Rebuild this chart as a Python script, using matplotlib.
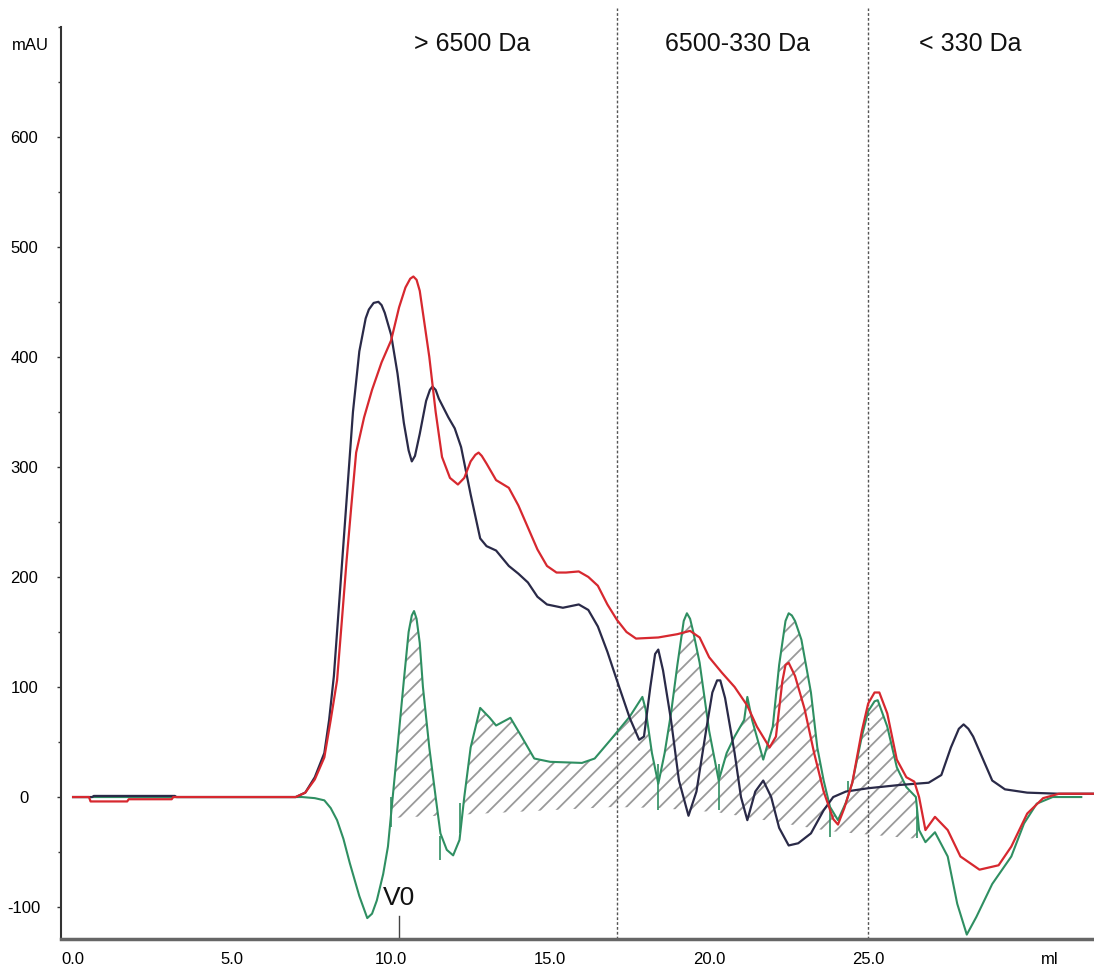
import numpy as np
import matplotlib
matplotlib.use('Agg')
import matplotlib.pyplot as plt
import matplotlib.ticker as ticker

plt.rcParams['font.family'] = ['Liberation Sans', 'DejaVu Sans']
plt.rcParams['hatch.linewidth'] = 1.3

# Elution volume (ml) / absorbance (mAU) traces
navy_x = [0.0, 0.6, 0.65, 3.2, 3.25, 7.0, 7.3, 7.6, 7.9, 8.05, 8.2, 8.35, 8.5, 8.65, 8.8,
          9.0, 9.2, 9.3, 9.45, 9.6, 9.7, 9.8, 10.0, 10.2, 10.4, 10.55, 10.65, 10.75, 10.9,
          11.1, 11.22, 11.3, 11.4, 11.5, 11.8, 12.0, 12.2, 12.5, 12.8, 13.0, 13.3, 13.7,
          14.0, 14.3, 14.6, 14.9, 15.4, 15.9, 16.2, 16.5, 16.8, 17.1, 17.5, 17.8, 17.95,
          18.15, 18.3, 18.4, 18.55, 18.8, 19.05, 19.35, 19.6, 19.9, 20.1, 20.25, 20.35,
          20.5, 20.8, 21.0, 21.2, 21.45, 21.7, 21.95, 22.2, 22.5, 22.8, 23.2, 23.6, 23.9,
          24.3, 25.0, 26.0, 26.9, 27.3, 27.6, 27.85, 28.0, 28.15, 28.3, 28.6, 28.9, 29.3,
          30.0, 31.0, 32.2]
navy_y = [0, 0, 1, 1, 0, 0, 4, 18, 40, 70, 110, 170, 230, 290, 350,
          405, 435, 443, 449, 450, 447, 440, 420, 385, 340, 315, 305, 310, 330,
          360, 370, 373, 370, 362, 345, 335, 318, 275, 235, 228, 224, 210,
          203, 195, 182, 175, 172, 175, 170, 155, 132, 106, 72, 52, 55,
          100, 130, 134, 115, 70, 15, -17, 5, 60, 95, 106, 106,
          90, 40, 0, -21, 5, 15, 0, -28, -44, -42, -33, -12, 0,
          5, 8, 11, 13, 20, 45, 62, 66, 62, 55, 35, 15, 7,
          4, 3, 3]

red_x = [0.0, 0.5, 0.55, 1.7, 1.75, 3.1, 3.15, 7.0, 7.3, 7.6, 7.9, 8.1, 8.3, 8.45, 8.6,
         8.75, 8.9, 9.15, 9.4, 9.7, 10.0, 10.25, 10.45, 10.6, 10.7, 10.8, 10.9, 11.0, 11.2,
         11.4, 11.6, 11.85, 12.1, 12.3, 12.5, 12.65, 12.75, 12.85, 13.0, 13.3, 13.7, 14.0,
         14.3, 14.6, 14.9, 15.2, 15.5, 15.9, 16.2, 16.5, 16.8, 17.1, 17.4, 17.7, 18.4, 19.0,
         19.4, 19.7, 20.0, 20.4, 20.8, 21.2, 21.5, 21.9, 22.1, 22.3, 22.4, 22.5, 22.7, 23.0,
         23.3, 23.6, 23.9, 24.05, 24.25, 24.5, 24.8, 25.0, 25.2, 25.35, 25.6, 25.9, 26.2,
         26.45, 26.6, 26.8, 27.1, 27.5, 27.9, 28.5, 29.1, 29.5, 30.0, 30.5, 31.0, 32.2]
red_y = [0, 0, -4, -4, -2, -2, 0, 0, 4, 16, 36, 70, 106, 160, 215,
         265, 313, 345, 370, 395, 415, 445, 463, 471, 473, 470, 460, 440, 400,
         350, 309, 290, 284, 290, 305, 311, 313, 310, 303, 288, 281, 265,
         245, 225, 210, 204, 204, 205, 200, 192, 175, 161, 150, 144, 145, 148,
         151, 145, 127, 113, 100, 83, 64, 45, 55, 105, 120, 122, 110, 80,
         40, 5, -20, -25, -10, 13, 60, 85, 95, 95, 76, 34, 18,
         14, 0, -30, -18, -30, -54, -66, -62, -45, -15, -1, 3, 3]

green_x = [0.0, 7.2, 7.6, 7.9, 8.1, 8.3, 8.5, 8.7, 9.0, 9.25, 9.4, 9.55, 9.75, 9.9, 10.0,
           10.2, 10.4, 10.55, 10.65, 10.72, 10.8, 10.9, 11.0, 11.2, 11.4, 11.55, 11.75,
           11.95, 12.15, 12.3, 12.5, 12.8, 13.1, 13.3, 13.75, 14.1, 14.5, 15.0, 16.0, 16.4,
           16.9, 17.5, 17.9, 18.0, 18.2, 18.4, 18.6, 18.8, 19.0, 19.2, 19.3, 19.4, 19.5,
           19.7, 20.0, 20.3, 20.55, 20.8, 21.1, 21.2, 21.35, 21.7, 22.0, 22.2, 22.4, 22.5,
           22.6, 22.7, 22.9, 23.2, 23.4, 23.6, 23.8, 24.05, 24.3, 24.5, 24.8, 25.0, 25.2,
           25.3, 25.6, 25.9, 26.2, 26.5, 26.6, 26.8, 27.1, 27.5, 27.8, 28.1, 28.4, 28.9,
           29.5, 29.9, 30.3, 30.8, 31.7]
green_y = [0, 0, -1, -3, -10, -21, -38, -60, -90, -110, -106, -94, -70, -45, -15,
           45, 106, 150, 165, 169, 162, 140, 100, 45, 0, -33, -48,
           -53, -39, 0, 45, 81, 72, 65, 72, 55, 35, 32, 31, 35,
           52, 73, 91, 80, 40, 12, 40, 76, 120, 160, 167, 162, 150,
           122, 60, 15, 40, 55, 70, 91, 70, 34, 64, 120, 160, 167,
           165, 160, 143, 95, 45, 15, -9, -21, -5, 13, 55, 78, 87,
           88, 64, 27, 9, 0, -30, -41, -32, -54, -97, -125, -109, -79,
           -54, -24, -6, 0, 0]

# Integration baseline under the green trace and the peak drop lines
base_x = [10.0, 12.2, 17.0, 18.4, 20.3, 23.8, 26.55]
base_y = [-19, -16, -9, -10, -14, -31, -38]
drop_x = [10.0, 11.55, 12.15, 18.4, 20.3, 23.8, 24.35, 26.55]
drop_lo = [-27, -57, -33, -12, -12, -36, 5, -37]
drop_hi = [0, -35, -5, 30, 30, -9, 15, -12]

fraction_bounds = [17.1, 25.0]
fraction_labels = ['> 6500 Da', '6500-330 Da', '< 330 Da']
fraction_label_x = [12.55, 20.9, 28.2]
v0 = 10.25

yticks = [-100, 0, 100, 200, 300, 400, 500, 600]
xticks = [0, 5, 10, 15, 20, 25, 30.7]
xticklabels = ['0.0', '5.0', '10.0', '15.0', '20.0', '25.0', 'ml']

fig = plt.figure(figsize=(10.94, 9.71), dpi=100)
ax = fig.add_axes([61 / 1094, 32 / 971, 1033 / 1094, 931 / 971])

ax.set_xlim(-0.38, 32.1)
ax.set_ylim(-129, 717)

# hatched peak areas above the baseline
gx = np.array(green_x, dtype=float)
gy = np.array(green_y, dtype=float)
fine_x = np.unique(np.concatenate([gx, np.array(base_x)]))
fine_x = fine_x[(fine_x >= base_x[0]) & (fine_x <= base_x[-1])]
fine_g = np.interp(fine_x, gx, gy)
fine_b = np.interp(fine_x, base_x, base_y)
ax.fill_between(fine_x, fine_g, fine_b, where=fine_g > fine_b, interpolate=True,
                facecolor='none', edgecolor='#9a9a9a', hatch='//', linewidth=0, zorder=1)

ax.plot(green_x, green_y, color='#2f8f62', lw=1.5, zorder=3)
ax.vlines(drop_x, drop_lo, drop_hi, color='#2f8f62', lw=1.2, zorder=3)
ax.plot(navy_x, navy_y, color='#2a2a48', lw=1.6, zorder=4)
ax.plot(red_x, red_y, color='#d7282f', lw=1.6, zorder=5)

# fraction boundaries
for xb in fraction_bounds:
    ax.axvline(xb, color='#555555', lw=1.0, ls=(0, (2, 1.5)), zorder=2)
for lab, xl in zip(fraction_labels, fraction_label_x):
    ax.text(xl, 684, lab, ha='center', va='center', fontsize=18, color='#111111')

# void volume marker
ax.plot([v0, v0], [-108, -129], color='#444444', lw=1.0, clip_on=False)
ax.text(v0, -98, 'V0', ha='center', va='baseline', fontsize=19, color='#111111',
        family=['Liberation Sans Narrow', 'Liberation Sans', 'DejaVu Sans'])

# axes styling
for side in ['top', 'right']:
    ax.spines[side].set_visible(False)
ax.spines['left'].set_color('#333333')
ax.spines['left'].set_linewidth(1.5)
ax.spines['left'].set_bounds(-129, 700)
ax.spines['bottom'].set_color('#666666')
ax.spines['bottom'].set_linewidth(2.5)

ax.set_yticks(yticks)
ax.set_yticklabels([str(v) for v in yticks])
ax.yaxis.set_minor_locator(ticker.MultipleLocator(50))
ax.tick_params(axis='y', which='major', length=3, width=1, color='#333333',
               pad=23.5, labelsize=12)
ax.tick_params(axis='y', which='minor', length=2, width=1, color='#333333')
for lbl in ax.get_yticklabels():
    lbl.set_horizontalalignment('center')

ax.set_xticks(xticks)
ax.set_xticklabels(xticklabels)
ax.tick_params(axis='x', length=0, pad=9, labelsize=12)

fig.text(30 / 1094, 1 - 45 / 971, 'mAU', ha='center', va='center', fontsize=12)

fig.savefig('out.png', dpi=100)
